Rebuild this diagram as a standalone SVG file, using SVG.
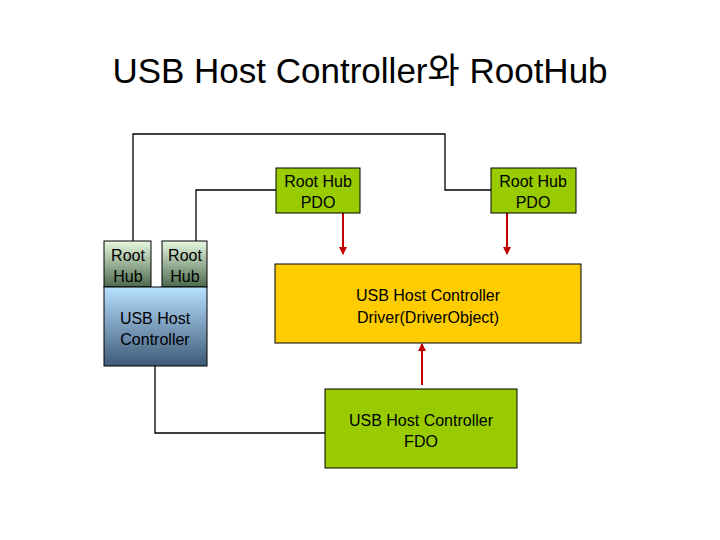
<svg xmlns="http://www.w3.org/2000/svg" width="720" height="540" viewBox="0 0 720 540">
<style>
text{font-family:"Liberation Sans","Noto Sans CJK KR",sans-serif;fill:#000;text-anchor:middle}
.t{font-size:16px}
.box{stroke:#000;stroke-width:1}
.ln{fill:none;stroke:#000;stroke-width:1.3}
.red{stroke:#c00000;stroke-width:2;marker-end:url(#ah)}
</style>
<defs>
<marker id="ah" markerWidth="8" markerHeight="8" refX="7" refY="4" orient="auto" markerUnits="userSpaceOnUse"><path d="M0,0L8,4L0,8z" fill="#c00000"/></marker>
<linearGradient id="gg" x1="0" y1="0" x2="0" y2="1"><stop offset="0" stop-color="#e6f8e0"/><stop offset="1" stop-color="#4d6a4d"/></linearGradient>
<linearGradient id="gb" x1="0" y1="0" x2="0" y2="1"><stop offset="0" stop-color="#b8e0ff"/><stop offset="1" stop-color="#3d5a78"/></linearGradient>
</defs>
<rect width="720" height="540" fill="#fff"/>
<text x="360" y="83" style="font-size:35px">USB Host Controller와 RootHub</text>
<g id="connectors">
<polyline class="ln" points="133,241 133,134 445,134 445,190 491,190"/>
<polyline class="ln" points="196,241 196,190 276,190"/>
<polyline class="ln" points="155,366 155,433 325,433"/>
<line class="red" x1="343" y1="213" x2="343" y2="254"/>
<line class="red" x1="507" y1="213" x2="507" y2="254"/>
<line class="red" x1="422" y1="385" x2="422" y2="344"/>
</g>
<g id="pdo1"><rect class="box" x="276" y="168" width="84" height="45" fill="#99cc00"/><text class="t" x="318" y="187">Root Hub</text><text class="t" x="318" y="208">PDO</text></g>
<g id="pdo2"><rect class="box" x="491" y="168" width="85" height="45" fill="#99cc00"/><text class="t" x="533" y="187">Root Hub</text><text class="t" x="533" y="208">PDO</text></g>
<g id="driver"><rect class="box" x="275" y="264" width="306" height="79" fill="#ffcc00"/><text class="t" x="428" y="301">USB Host Controller</text><text class="t" x="428" y="323">Driver(DriverObject)</text></g>
<g id="fdo"><rect class="box" x="325" y="389" width="192" height="79" fill="#99cc00"/><text class="t" x="421" y="426">USB Host Controller</text><text class="t" x="421" y="447">FDO</text></g>
<g id="roothub1"><rect class="box" x="104" y="241" width="47" height="46" fill="url(#gg)"/><text class="t" x="128" y="261">Root</text><text class="t" x="128" y="282">Hub</text></g>
<g id="roothub2"><rect class="box" x="162" y="241" width="45" height="46" fill="url(#gg)"/><text class="t" x="185" y="261">Root</text><text class="t" x="185" y="282">Hub</text></g>
<g id="hc"><rect class="box" x="104" y="287" width="103" height="79" fill="url(#gb)"/><text class="t" x="155" y="324">USB Host</text><text class="t" x="155" y="345">Controller</text></g>
</svg>
